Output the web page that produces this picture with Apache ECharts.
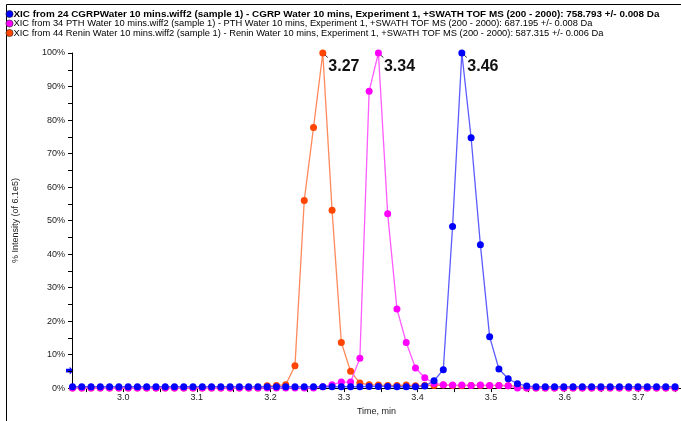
<!DOCTYPE html>
<html><head><meta charset="utf-8">
<script src="https://cdn.jsdelivr.net/npm/echarts@6/dist/echarts.min.js"></script>
<style>html,body{margin:0;padding:0;background:#fff}#c{width:681px;height:421px}</style>
</head><body><div id="c"></div>
<script>
// Scan times (min)
const times = [2.9310,2.9436,2.9562,2.9688,2.9814,2.9940,3.0066,3.0192,3.0318,3.0444,
3.0570,3.0696,3.0822,3.0948,3.1074,3.1200,3.1326,3.1452,3.1578,3.1704,
3.1830,3.1956,3.2082,3.2208,3.2334,3.2460,3.2586,3.2712,3.2838,3.2964,
3.3090,3.3216,3.3342,3.3468,3.3594,3.3720,3.3846,3.3972,3.4098,3.4224,
3.4350,3.4476,3.4602,3.4728,3.4854,3.4980,3.5106,3.5232,3.5358,3.5484,
3.5610,3.5736,3.5862,3.5988,3.6114,3.6240,3.6366,3.6492,3.6618,3.6744,
3.6870,3.6996,3.7122,3.7248,3.7374,3.7500];
// % intensity, Renin (orange)
const renin = [0,0,0,0,0,0,0,0,0,0, 0,0,0,0,0,0,0,0,0,0, 0,
0.7,0.8,1.0,6.7,56,77.8,100,53.1,13.6,5.0,1.5,1.0,
0.9,0.8,0.8,0.9,0.7,0.8,0.8,0.9,0.8,0.7,0.8,0.8,0.7,0.8,0.7,0.6,
0,0,0,0,0,0,0,0,0,0,0,0,0,0,0,0,0];
// % intensity, PTH (magenta)
const pth = [0,0,0,0,0,0,0,0,0,0, 0,0,0,0,0,0,0,0,0,0, 0,0,0,0,0,0,0,
0.4,1.0,1.8,1.8,8.9,88.6,100,52,23.6,13.6,6.0,3.1,1.4,1.0,
0.9,0.9,0.8,0.9,0.8,0.8,0.7,
0,0,0,0,0,0,0,0,0,0,0,0,0,0,0,0,0,0];
// % intensity, CGRP (blue)
const cgrp = [0.4,0.4,0.4,0.4,0.4,0.4,0.4,0.4,0.4,0.4, 0.4,0.4,0.4,0.4,0.4,0.4,0.4,0.4,0.4,0.4,
0.4,0.4,0.4,0.4,0.4,0.4,0.4,0.4,0.4,0.4, 0.4,0.4,0.5,0.5,0.5,0.4,0.4,0.4,
0.6,2.2,5.5,48.2,100,74.7,42.8,15.3,5.7,2.8,1.3,0.6,
0.4,0.4,0.4,0.4,0.4,0.4,0.4,0.4,0.4,0.4,0.4,0.4,0.4,0.4,0.4,0.4];

const xTickLabels = [3.0,3.1,3.2,3.3,3.4,3.5,3.6,3.7];
const xTickMarks = [2.95,3.0,3.05,3.1,3.15,3.2,3.25,3.3,3.35,3.4,3.45,3.5,3.55,3.6,3.65,3.7,3.75];
const yTickMarks = [0,5,10,15,20,25,30,35,40,45,50,55,60,65,70,75,80,85,90,95,100];
const legendNames = [
 'XIC from 24 CGRPWater 10 mins.wiff2 (sample 1) - CGRP Water 10 mins, Experiment 1, +SWATH TOF MS (200 - 2000): 758.793 +/- 0.008 Da',
 'XIC from 34 PTH Water 10 mins.wiff2 (sample 1) - PTH Water 10 mins, Experiment 1, +SWATH TOF MS (200 - 2000): 687.195 +/- 0.008 Da',
 'XIC from 44 Renin Water 10 mins.wiff2 (sample 1) - Renin Water 10 mins, Experiment 1, +SWATH TOF MS (200 - 2000): 587.315 +/- 0.006 Da'
];
const peakLabels = ['3.27','3.34','3.46'];

const FONT = '"Liberation Sans", Arial, sans-serif';
const seriesDefs = [
  {name: legendNames[2], vals: renin, dot: '#ff4500', line: '#ff8a5c', peak: peakLabels[0]},
  {name: legendNames[1], vals: pth, dot: '#ff00ff', line: '#ff5cff', peak: peakLabels[1]},
  {name: legendNames[0], vals: cgrp, dot: '#0000ff', line: '#5c5cff', peak: peakLabels[2]}
];

const chart = echarts.init(document.getElementById('c'), null, {renderer: 'canvas'});
chart.setOption({
  animation: false,
  backgroundColor: '#fff',
  grid: {left: 72, right: 0, top: 53, bottom: 25, containLabel: false},
  xAxis: {
    type: 'value', min: 2.9303, max: 3.7581,
    name: 'Time, min', nameLocation: 'middle', nameGap: 18,
    nameTextStyle: {fontFamily: FONT, fontSize: 9, color: '#222'},
    axisLine: {show: true, lineStyle: {color: '#000', width: 1}},
    axisTick: {show: true, length: 4, customValues: xTickMarks, lineStyle: {color: '#000'}},
    axisLabel: {customValues: xTickLabels, fontFamily: FONT, fontSize: 9, color: '#222', margin: 5,
      formatter: v => v.toFixed(1)},
    splitLine: {show: false}
  },
  yAxis: {
    type: 'value', min: 0, max: 100, interval: 10,
    name: '% Intensity (of 6.1e5)', nameLocation: 'middle', nameGap: 52,
    nameTextStyle: {fontFamily: FONT, fontSize: 9, color: '#222'},
    axisLine: {show: true, lineStyle: {color: '#000', width: 1}},
    axisTick: {show: true, length: 4, customValues: yTickMarks, lineStyle: {color: '#000'}},
    axisLabel: {fontFamily: FONT, fontSize: 9, color: '#222', margin: 7, formatter: '{value}%'},
    splitLine: {show: false}
  },
  series: seriesDefs.map(s => ({
    type: 'line', name: s.name,
    data: times.map((t, i) => [t, s.vals[i]]),
    symbol: 'circle', symbolSize: 7, showAllSymbol: true, clip: false,
    itemStyle: {color: s.dot},
    lineStyle: {color: s.line, width: 1.3},
    emphasis: {disabled: true}
  }))
});

// Decorations: frame, legend rows, peak labels, threshold arrow
const cv = document.createElement('canvas').getContext('2d');
function fitScale(text, font, target) {
  cv.font = font; const w = cv.measureText(text).width; return target / w;
}
const g = [];
g.push({type: 'polyline', silent: true, shape: {points: [[6.5, 421], [6.5, 4.5], [681, 4.5]]},
  style: {stroke: '#000', lineWidth: 1, fill: null}});
const rowY = [14, 23.5, 33];
const rowEnd = [659, 592, 603];
const rowColors = ['#0000ff', '#ff00ff', '#ff4500'];
legendNames.forEach((name, i) => {
  const bold = i === 0;
  const font = (bold ? 'bold ' : '') + '9.5px ' + FONT;
  const sx = fitScale(name, font, rowEnd[i] - 13);
  g.push({type: 'circle', silent: true, shape: {cx: 9.5, cy: rowY[i], r: 3.6},
    style: {fill: rowColors[i], stroke: '#222', lineWidth: 0.6}});
  g.push({type: 'text', silent: true, x: 13.5, y: rowY[i], scaleX: sx, scaleY: 1,
    style: {text: name, font: font, fill: '#000', align: 'left', verticalAlign: 'middle',
      textAlign: 'left', textVerticalAlign: 'middle'}});
});
seriesDefs.forEach((s, si) => {
  let mi = 0; s.vals.forEach((v, i) => { if (v > s.vals[mi]) mi = i; });
  const p = chart.convertToPixel({seriesIndex: si}, [times[mi], s.vals[mi]]);
  g.push({type: 'line', silent: true, shape: {x1: p[0] + 1, y1: p[1] + 1, x2: p[0] + 5, y2: p[1] + 4.5},
    style: {stroke: '#333', lineWidth: 1}});
  g.push({type: 'text', silent: true, x: p[0] + 5.5, y: p[1] + 5.5,
    style: {text: s.peak, font: 'bold 16px ' + FONT, fill: '#111', align: 'left', verticalAlign: 'top',
      textAlign: 'left', textVerticalAlign: 'top'}});
});
const ay = chart.convertToPixel({yAxisIndex: 0}, 5.2);
g.push({type: 'polygon', silent: true, x: 73.5, y: ay,
  shape: {points: [[-7.5, -1.8], [-3.8, -1.8], [-3.8, -3.8], [0, 0], [-3.8, 3.8], [-3.8, 1.8], [-7.5, 1.8]]},
  style: {fill: '#0000ff'}});
chart.setOption({graphic: g});
</script></body></html>
